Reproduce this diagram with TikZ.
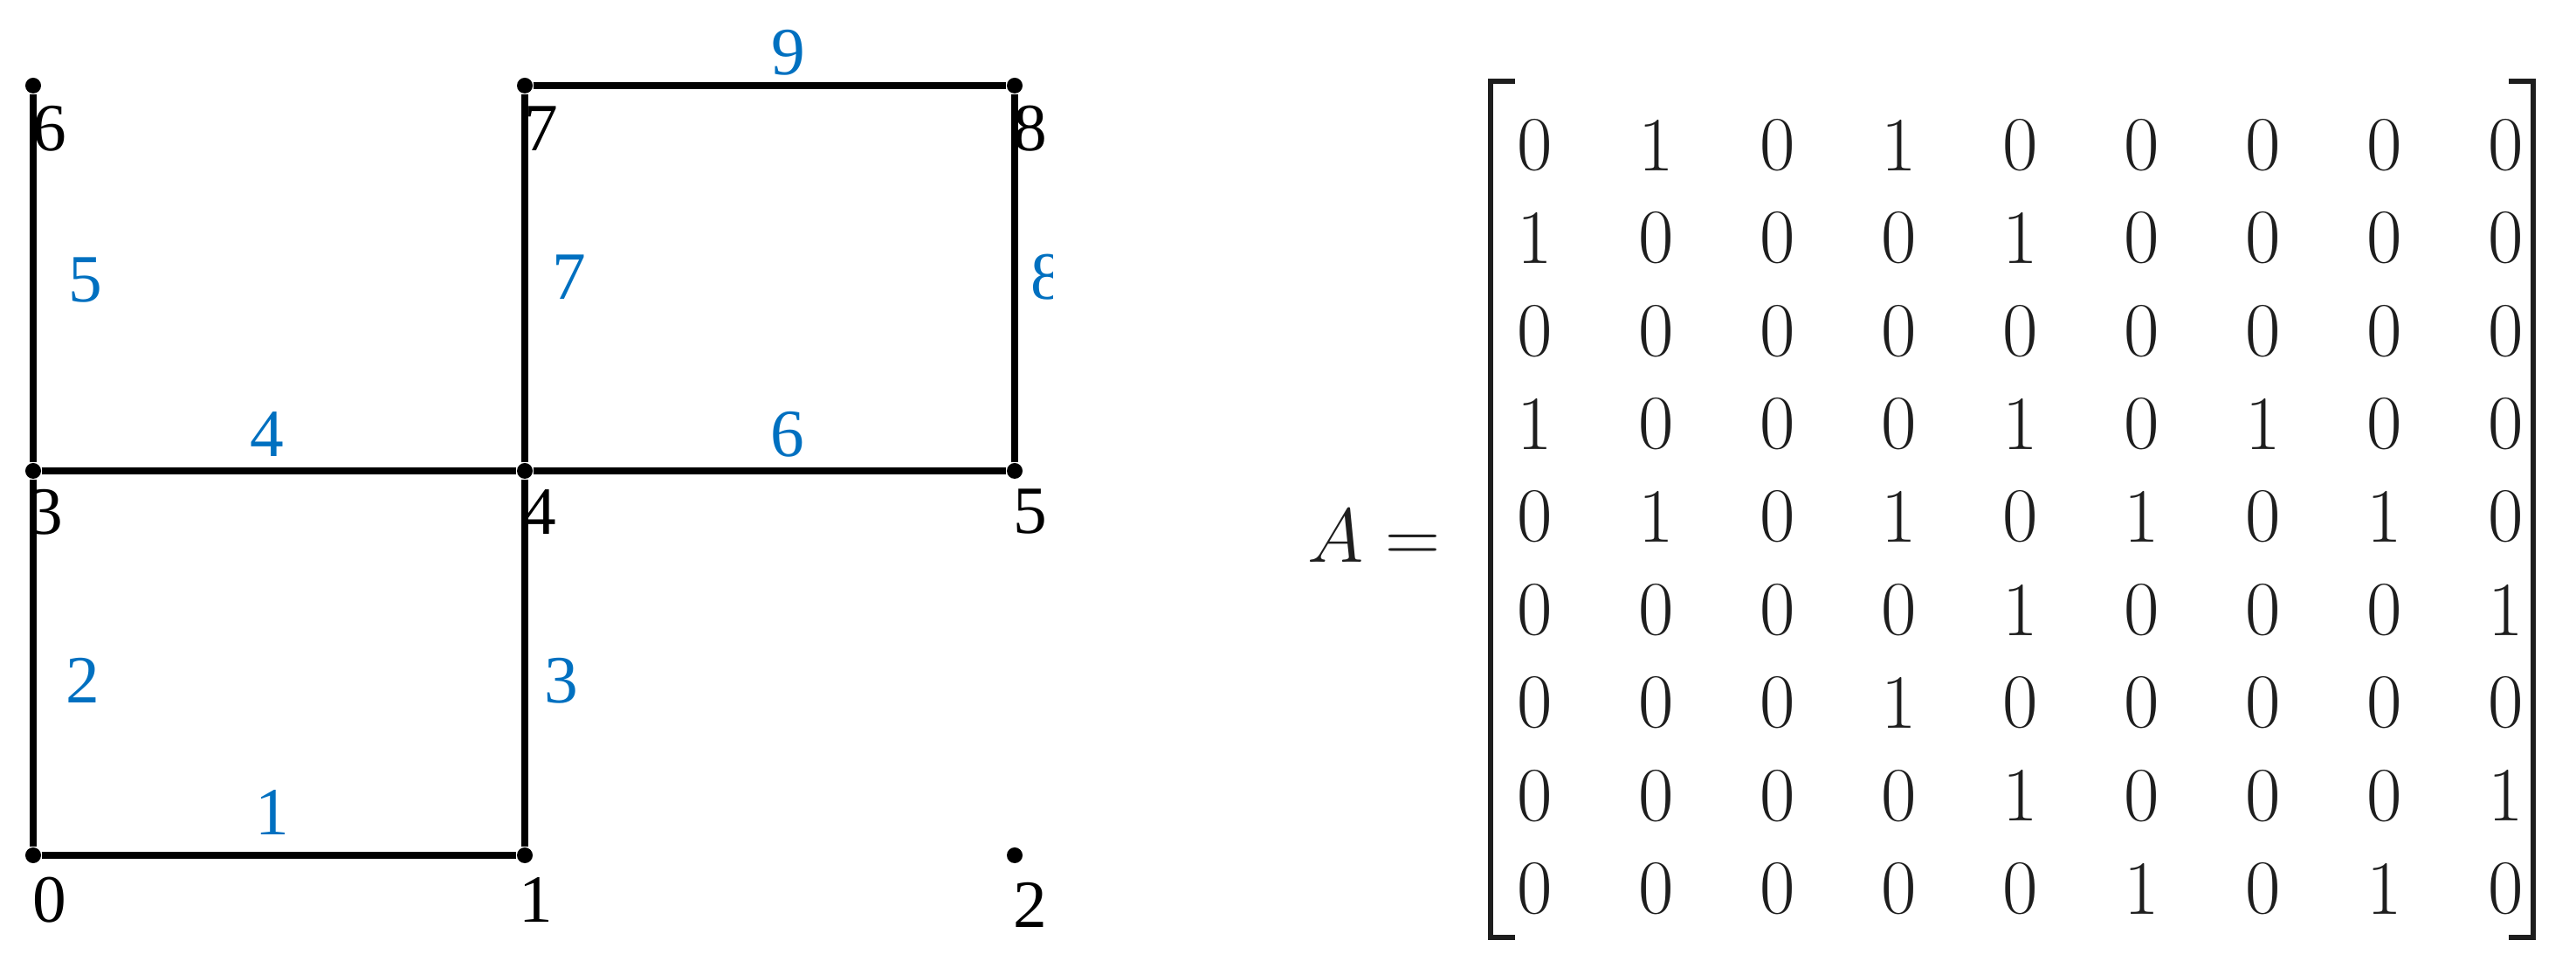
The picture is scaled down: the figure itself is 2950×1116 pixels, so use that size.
\documentclass[tikz,border=0pt]{standalone}
\usepackage{fontspec}
\newfontfamily\timesf{Liberation Serif}
\definecolor{lblblue}{RGB}{0,112,192}
\definecolor{ink}{RGB}{30,30,30}
\tikzset{
  edge/.style={line width=2.1pt,black},
  vdot/.style={circle,fill=black,inner sep=0pt,minimum size=0.18cm},
  vlab/.style={font=\timesf\fontsize{22}{24}\selectfont,inner sep=0pt,text=black},
  elab/.style={font=\timesf\fontsize{22}{24}\selectfont,inner sep=0pt,text=lblblue},
  entry/.style={font=\fontsize{25}{28}\selectfont,inner sep=0pt,text=ink},
  brack/.style={line width=1.5pt,ink}
}
\begin{document}
\begin{tikzpicture}[x=0.01cm,y=-0.01cm]
\useasboundingbox (0,0) rectangle (2950,1116);
% vertices
\node[vdot] (v0) at (38,979) {};
\node[vdot] (v1) at (601,979) {};
\node[vdot] (v2) at (1162,979) {};
\node[vdot] (v3) at (38,539) {};
\node[vdot] (v4) at (601,539) {};
\node[vdot] (v5) at (1162,539) {};
\node[vdot] (v6) at (38,98) {};
\node[vdot] (v7) at (601,98) {};
\node[vdot] (v8) at (1162,98) {};
% edges
\draw[edge] (v0) -- (v1);
\draw[edge] (v0) -- (v3);
\draw[edge] (v1) -- (v4);
\draw[edge] (v3) -- (v4);
\draw[edge] (v3) -- (v6);
\draw[edge] (v4) -- (v5);
\draw[edge] (v4) -- (v7);
\draw[edge] (v5) -- (v8);
\draw[edge] (v7) -- (v8);
% vertex labels
\node[vlab] (l6) at (57,147) {6};
\node[vlab] (l7) at (620,147) {7};
\node[vlab] (l8) at (1180,147) {8};
\node[vlab] (l3) at (53,586) {3};
\node[vlab] (l4) at (618,586) {4};
\node[vlab] (l5) at (1180,586) {5};
\node[vlab] (l0) at (57,1030) {0};
\node[vlab] (l1) at (614,1030) {1};
\node[vlab] (l2) at (1180,1036) {2};
% edge labels
\node[elab] (e9) at (903,60) {9};
\node[elab] (e5) at (98,321) {5};
\node[elab] (e7) at (652,317) {7};
\begin{scope}
\clip (1150,0) rectangle (1205,1116);
\node[elab] (e8) at (1200,317) {8};
\end{scope}
\node[elab] (e4) at (306,497) {4};
\node[elab] (e6) at (902,497) {6};
\node[elab] (e2) at (95,779) {2};
\node[elab] (e3) at (643,779) {3};
\node[elab] (e1) at (312,930) {1};
% matrix
\node[entry,anchor=east] (Aeq) at (1650,614) {$A=$};
\draw[brack] (1735,93) -- (1707,93) -- (1707,1073) -- (1735,1073);
\draw[brack] (2873,93) -- (2901,93) -- (2901,1073) -- (2873,1073);
\foreach \row [count=\r from 0] in {
 {0,1,0,1,0,0,0,0,0},
 {1,0,0,0,1,0,0,0,0},
 {0,0,0,0,0,0,0,0,0},
 {1,0,0,0,1,0,1,0,0},
 {0,1,0,1,0,1,0,1,0},
 {0,0,0,0,1,0,0,0,1},
 {0,0,0,1,0,0,0,0,0},
 {0,0,0,0,1,0,0,0,1},
 {0,0,0,0,0,1,0,1,0}}{
  \foreach \v [count=\c from 0] in \row {
    \node[entry] (m\r\c) at ({1758+139*\c},{166+106.4*\r}) {\v};
  }
}
\end{tikzpicture}
\end{document}
